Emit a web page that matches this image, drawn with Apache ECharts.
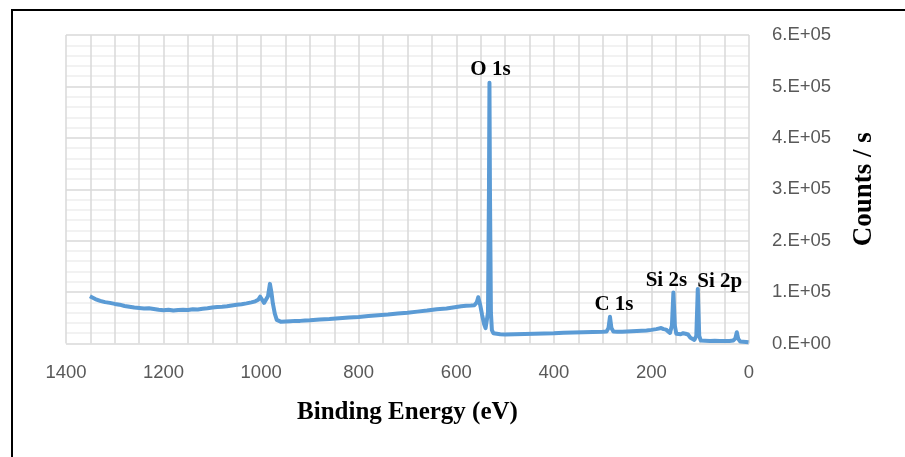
<!DOCTYPE html>
<html>
<head>
<meta charset="utf-8">
<script src="https://cdn.jsdelivr.net/npm/echarts@6/dist/echarts.min.js"></script>
<style>
  html, body { margin: 0; padding: 0; background: #ffffff; }
  #chart { width: 905px; height: 457px; }
</style>
</head>
<body>
<div id="chart"></div>
<script>
// XPS survey spectrum: binding energy (eV) vs counts per second
const energy = [1351,1345,1340,1330,1320,1310,1300,1290,1280,1270,1260,1250,1240,1230,1220,1210,1200,1190,1180,1170,1160,1150,1140,1130,1120,1110,1100,1090,1080,1070,1060,1050,1040,1030,1020,1012,1006,1002,998,994,990,986,982,979,976,972,968,965,960,950,940,930,920,910,900,880,860,840,820,800,780,760,740,720,700,680,660,640,620,600,590,580,570,563,558,555,551,547,543,540,537,535,533,532,531,529,527,524,520,510,500,480,460,440,420,400,380,360,340,320,300,292,288,285,282,278,270,260,250,240,230,220,210,200,190,180,175,170,166,162,158,155,152,149,146,140,135,130,125,120,116,112,108,105,102,99,96,90,80,70,60,50,40,32,28,25,22,18,12,6,1];
const counts = [92000,89000,86500,83000,80500,79000,77000,75500,73000,71500,70000,69000,68000,68500,67000,65500,64500,65500,64000,65000,65500,65000,66500,66000,67500,68500,70000,71000,71500,72500,74000,75500,76500,78000,80000,82000,85000,91000,85000,79000,80000,92000,116000,100000,78000,58000,46000,43000,42500,43000,43500,44000,44000,44500,45000,46500,47500,49000,50500,51500,53500,55000,56500,58500,60000,62000,64000,66500,68000,71000,72500,73500,74000,74500,80000,90000,75000,55000,38000,30000,32000,60000,300000,507000,300000,60000,26000,20000,18500,18000,17500,18000,18500,19000,19500,20000,21000,21500,22000,22500,23000,23500,30000,52000,30000,23500,23000,23000,23500,24000,24500,25000,25500,26500,28000,30000,28000,27000,24000,20500,35000,99000,35000,19000,17000,18000,20000,19000,17500,11000,8000,7000,15000,106000,15000,6000,5500,5500,5000,5500,5000,5000,5000,6000,10000,22000,9000,4000,3500,3000,2500];

// Peak annotations
const peakNames = ['O 1s', 'C 1s', 'Si 2s', 'Si 2p'];
const peakEnergies = [532, 285, 155, 105];

// Axis ticks
const xTicks = [0, 200, 400, 600, 800, 1000, 1200, 1400];
const yTicks = [0, 100000, 200000, 300000, 400000, 500000, 600000];

const peakLabelOffsets = [[1, 0], [4, 1], [-7, 1], [22, 6]];

const seriesData = energy.map((e, i) => [e, counts[i]]);
const peakMarks = peakNames.map((name, i) => {
  const idx = energy.indexOf(peakEnergies[i]);
  return {
    name: name,
    coord: [energy[idx], counts[idx]],
    label: { offset: peakLabelOffsets[i] }
  };
});

const tickFont = { fontFamily: '"Liberation Sans", Arial, sans-serif', fontSize: 18.5, color: '#595959' };
const serif = '"Liberation Serif", "DejaVu Serif", serif';

const chart = echarts.init(document.getElementById('chart'), null, { renderer: 'canvas' });
chart.setOption({
  animation: false,
  backgroundColor: '#ffffff',
  grid: { left: 66, right: 156, top: 35, bottom: 113.5, containLabel: false },
  xAxis: {
    type: 'value',
    inverse: true,
    min: xTicks[0],
    max: xTicks[xTicks.length - 1],
    interval: 200,
    name: 'Binding Energy (eV)',
    nameLocation: 'middle',
    nameGap: 57,
    nameTextStyle: { fontFamily: serif, fontSize: 25, fontWeight: 'bold', color: '#000000' },
    axisLine: { show: false },
    axisTick: { show: false },
    axisLabel: Object.assign({ margin: 20, formatter: v => String(v) }, tickFont),
    splitLine: { show: true, lineStyle: { color: '#d9d9d9', width: 1.5 } },
    minorTick: { show: false, splitNumber: 4 },
    minorSplitLine: { show: true, lineStyle: { color: '#d9d9d9', width: 1.5 } }
  },
  yAxis: {
    type: 'value',
    position: 'right',
    min: yTicks[0],
    max: yTicks[yTicks.length - 1],
    interval: 100000,
    name: 'Counts / s',
    nameLocation: 'middle',
    nameGap: 102,
    nameTextStyle: { fontFamily: serif, fontSize: 27, fontWeight: 'bold', color: '#000000' },
    axisLine: { show: false },
    axisTick: { show: false },
    axisLabel: Object.assign({
      margin: 23,
      formatter: v => v === 0 ? '0.E+00' : (v / 100000) + '.E+05'
    }, tickFont),
    splitLine: { show: true, lineStyle: { color: '#d9d9d9', width: 1.5 } },
    minorTick: { show: false, splitNumber: 5 },
    minorSplitLine: { show: true, lineStyle: { color: '#eeeeee', width: 1.5 } }
  },
  series: [{
    type: 'line',
    data: seriesData,
    showSymbol: false,
    lineStyle: { color: '#5b9bd5', width: 4, join: 'round' },
    markPoint: {
      symbol: 'circle',
      symbolSize: 0,
      label: {
        show: true,
        position: 'top',
        distance: 3,
        formatter: p => p.name,
        fontFamily: serif,
        fontSize: 21,
        fontWeight: 'bold',
        color: '#000000'
      },
      data: peakMarks
    }
  }],
  graphic: [{
    type: 'rect',
    shape: { x: 12, y: 10, width: 1000, height: 1000 },
    style: { fill: 'none', stroke: '#000000', lineWidth: 2 },
    silent: true
  }]
});
</script>
</body>
</html>
